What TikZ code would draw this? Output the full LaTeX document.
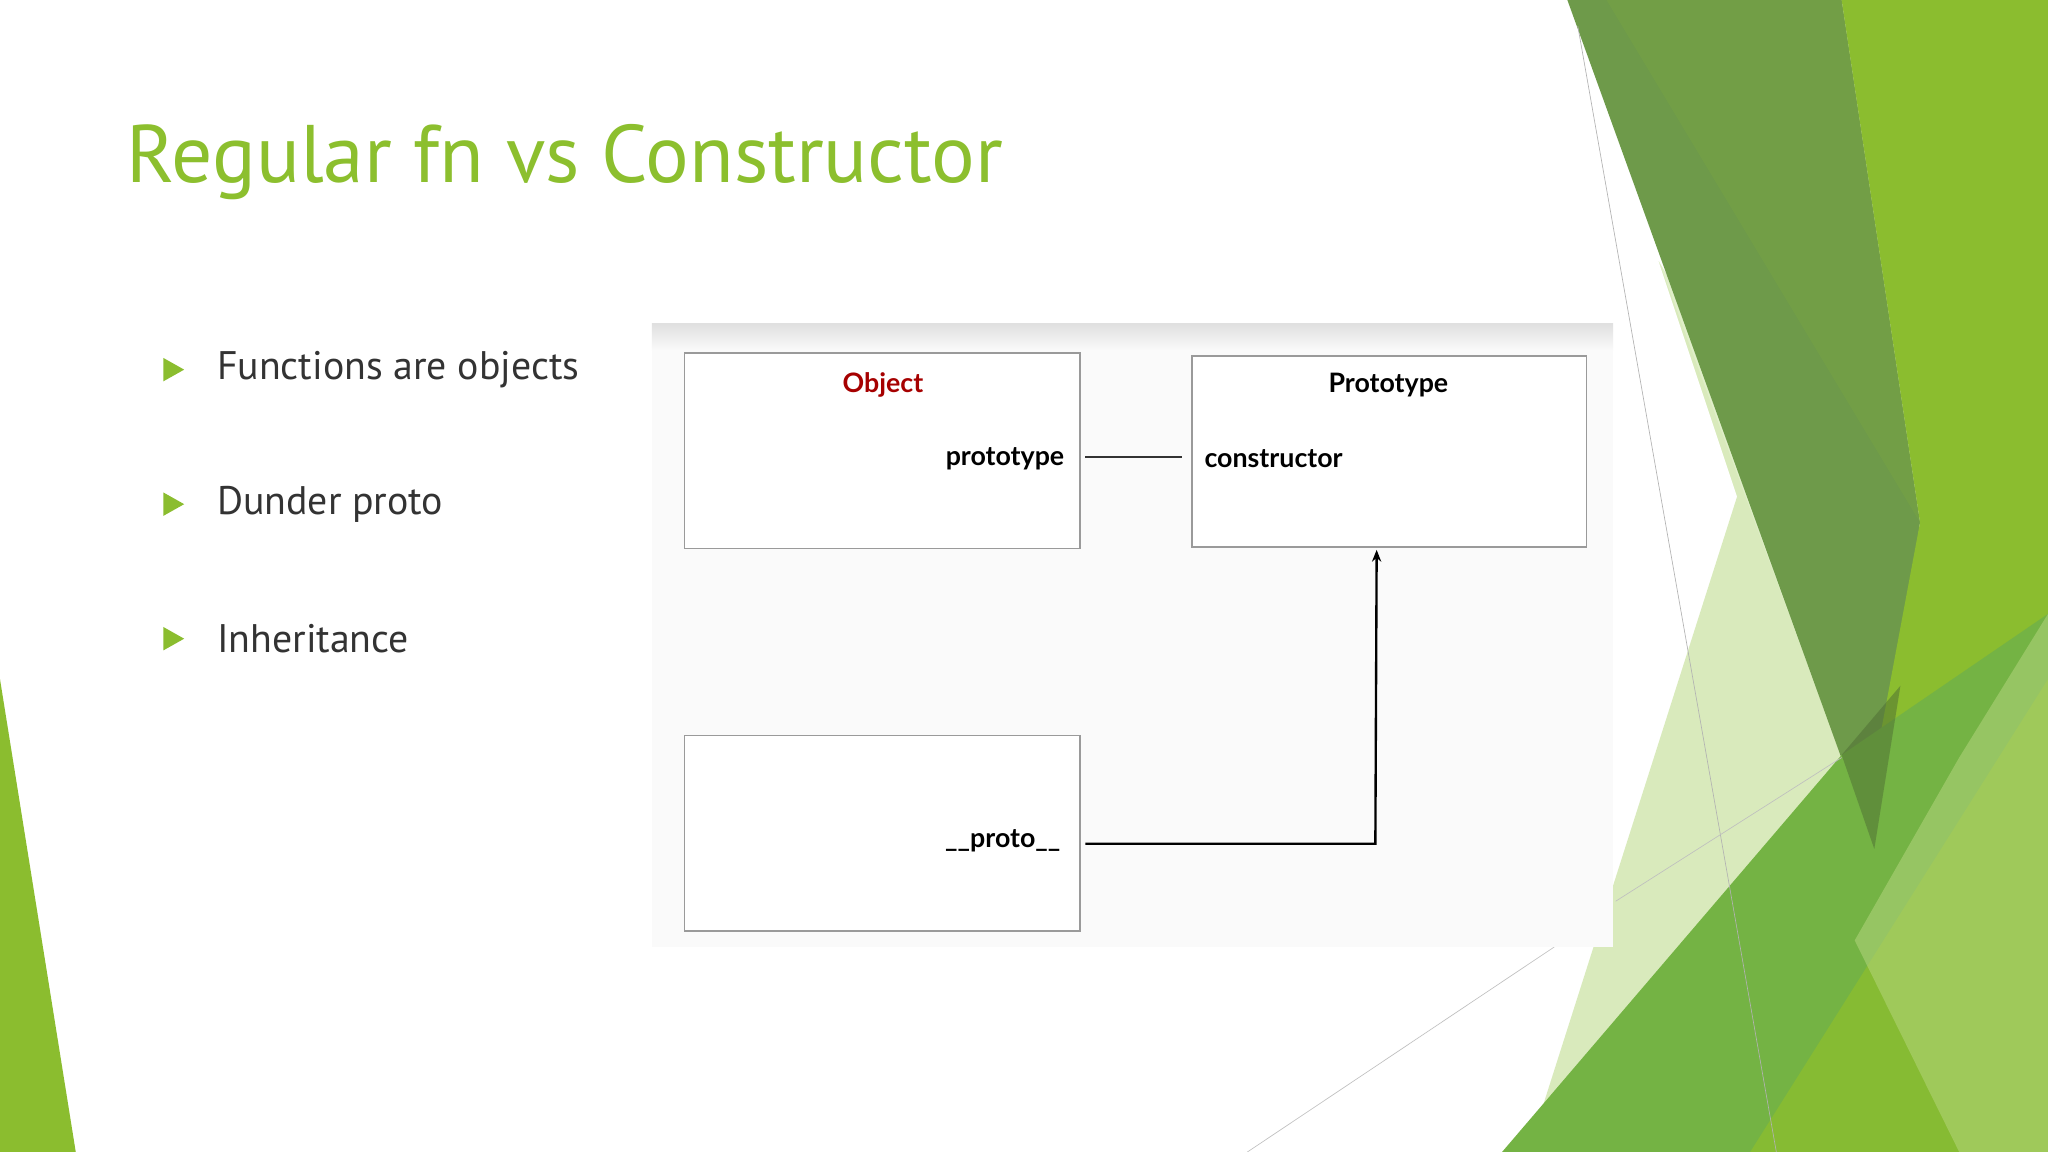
\documentclass[tikz,border=0pt]{standalone}
\usepackage{fontspec}
\setmainfont{PT Sans}
\newfontfamily\diag{Lato}
\usetikzlibrary{arrows.meta}
\definecolor{titlegreen}{HTML}{8CBF2E}
\definecolor{dkg}{HTML}{6E9A4A}
\definecolor{brg}{HTML}{8BBD2F}
\definecolor{lg}{HTML}{C9E2A0}
\definecolor{mg}{HTML}{74B344}
\definecolor{boxline}{HTML}{9A9A9A}
\begin{document}
\begin{tikzpicture}[x=1pt,y=-1pt,
  bx/.style={draw=boxline,line width=1.3pt},
  lbl/.style={font=\diag\bfseries\fontsize{20.5}{24}\selectfont,inner sep=0pt},
  bul/.style={font=\fontsize{30.5}{36}\selectfont,anchor=west,inner sep=0pt,text=black!80}]
\useasboundingbox (0,0) rectangle (1568,882);
\fill[white] (0,0) rectangle (1568,882);
% decorative shapes
\fill[brg] (0,520) -- (58,882) -- (0,882) -- cycle;
\fill[lg,opacity=0.7] (1270,200) -- (1410,580) -- (1200,882) -- (1170,882) -- (1330,380) -- cycle;
\fill[lg!70,opacity=0.8] (1270,200) -- (1400,420) -- (1430,650) -- (1330,380) -- cycle;
\fill[dkg] (1200,0) -- (1410,0) -- (1470,400) -- (1435,650) -- cycle;
\fill[dkg!80!brg,opacity=0.7] (1230,0) -- (1410,0) -- (1470,400) -- cycle;
\fill[brg] (1410,0) -- (1568,0) -- (1568,882) -- (1380,882) -- (1470,400) -- cycle;
\fill[mg] (1150,882) -- (1410,578) -- (1568,470) -- (1568,882) -- cycle;
\fill[brg,opacity=0.8] (1340,882) -- (1568,520) -- (1568,882) -- cycle;
\fill[brg!60!white,opacity=0.5] (1420,720) -- (1500,580) -- (1568,470) -- (1568,882) -- (1500,882) -- cycle;
\fill[dkg!70!black,opacity=0.5] (1410,578) -- (1455,525) -- (1435,650) -- cycle;
\draw[gray!60,line width=0.5pt] (1208,20) -- (1360,882);
\draw[gray!50,line width=0.5pt] (955,882) -- (1190,725);
\draw[gray!50,line width=0.5pt] (1237,690) -- (1410,580);
% title and bullets
\node[anchor=west,inner sep=0pt,text=titlegreen,font=\fontsize{62.5}{72}\selectfont] (title) at (97,124) {Regular fn vs Constructor};
\foreach \y/\t [count=\i] in {283/Functions are objects,386/Dunder proto,489/Inheritance}{
  \fill[brg] (125,\y-9) -- (141,\y) -- (125,\y+9) -- cycle;
  \node[bul] (b\i) at (166,\y) {\t};
}
% diagram panel
\shade[top color=black!12,bottom color=black!2] (499,248) rectangle (1235,268);
\fill[black!2] (499,268) rectangle (1235,725);
\draw[bx,fill=white] (524,270) rectangle (827,420);
\node[bx,fill=white,minimum width=302pt,minimum height=146pt,anchor=north west] (proto) at (912,272) {};
\draw[bx,fill=white] (524,563) rectangle (827,713);
\node[lbl,text=red!65!black] (objt) at (676,295) {Object};
\node[lbl,anchor=east] (ptp) at (815,351) {prototype};
\node[lbl] (prt) at (1063,295) {Prototype};
\node[lbl,anchor=west] (ctor) at (922,351) {constructor};
\node[lbl,anchor=east] (dp) at (812,644) {\_\_proto\_\_};
\coordinate (c1) at (831,350);
\coordinate (c2) at (905,350);
\draw[line width=1.2pt,black!80] (c1) -- (c2);
\coordinate (d1) at (831,646);
\draw[line width=1.8pt,-{Stealth[length=9pt,width=7pt]}] (d1) -- (1053,646) -- (1054,421);
\end{tikzpicture}
\end{document}
